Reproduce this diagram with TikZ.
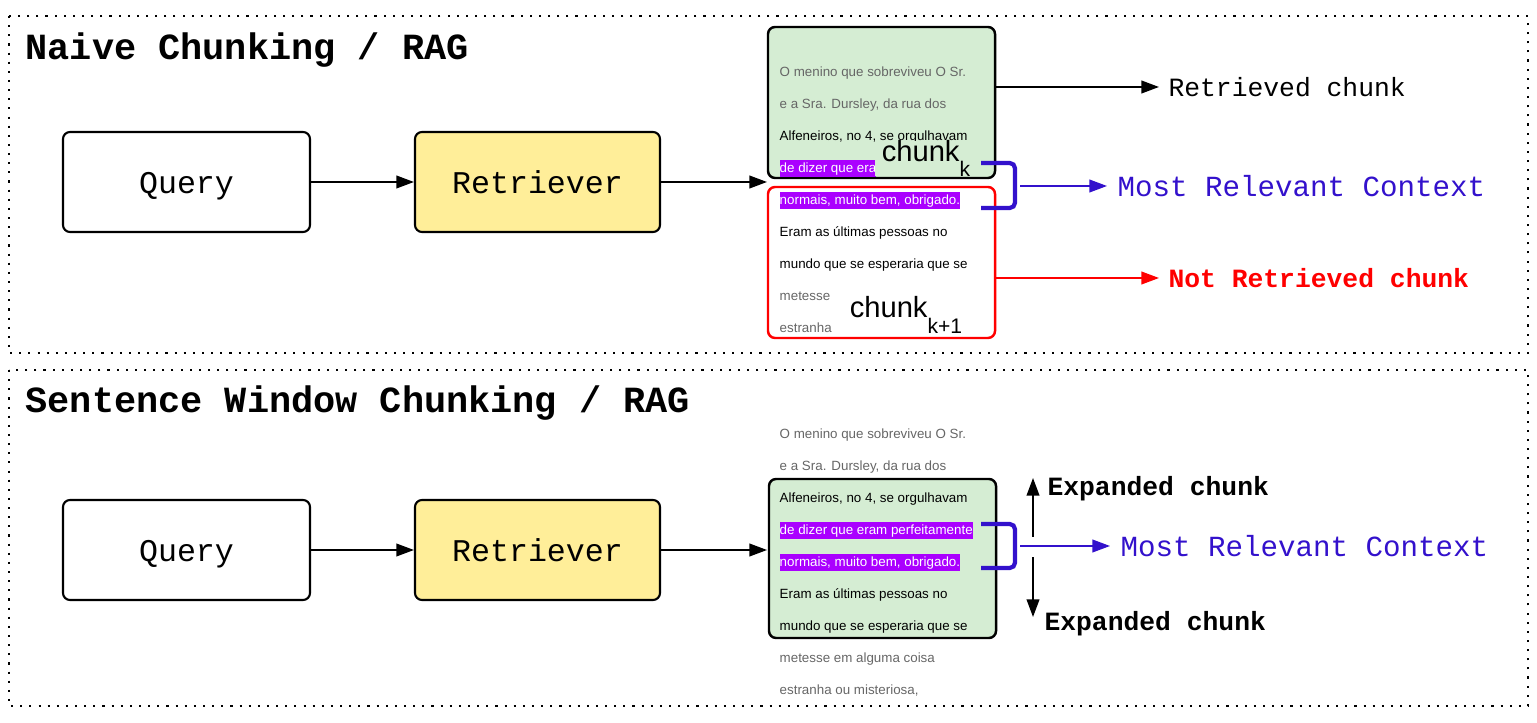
\documentclass[tikz,border=0pt]{standalone}
\usepackage{fontspec}
\setmainfont{Liberation Sans}
\setmonofont{Liberation Mono}
\usetikzlibrary{arrows.meta}
\definecolor{chunkgreen}{RGB}{213,237,211}
\definecolor{retryellow}{RGB}{255,238,153}
\definecolor{hlpurple}{RGB}{170,0,255}
\definecolor{ctxblue}{RGB}{51,17,204}
\definecolor{txtgray}{RGB}{102,102,102}

\begin{document}
\begin{tikzpicture}[
  arrow/.style={-{Triangle[length=5pt,width=3.6pt]}, line width=0.5pt},
  box/.style={draw, rounded corners=2pt, line width=0.6pt, minimum width=2.47cm, minimum height=1cm, text height=8.2pt, text depth=1.6pt, font=\ttfamily\fontsize{9}{11}\selectfont},
  chunkbox/.style={draw, rounded corners=2pt, line width=0.7pt, minimum width=2.27cm},
  para/.style={anchor=west, inner sep=0pt, text height=2.8pt, text depth=0.8pt, font=\fontsize{3.8}{4.5}\selectfont},
  hl/.style={para, fill=hlpurple, text=white, inner ysep=0.5pt},
  chunklbl/.style={anchor=base west, fill=white, inner xsep=2pt, inner ysep=0pt, font=\fontsize{8.3}{10}\selectfont},
  heading/.style={anchor=base west, inner sep=0pt, font=\ttfamily\bfseries\fontsize{10.5}{12}\selectfont},
  lbl/.style={anchor=west, inner sep=2.5pt, font=\ttfamily\fontsize{7.5}{9}\selectfont},
  lblb/.style={anchor=west, inner sep=2.5pt, font=\ttfamily\bfseries\fontsize{7.5}{9}\selectfont},
  ctx/.style={anchor=west, inner sep=2.8pt, text=ctxblue, font=\ttfamily\fontsize{8.3}{10}\selectfont},
  bracket/.style={draw=ctxblue, line width=1.2pt, rounded corners=1.5pt}
]
  \useasboundingbox (0,0) rectangle (15.37,7.22);

  \draw[dotted, line width=0.6pt] (0.09,7.06) rectangle (15.28,3.69);
  \draw[dotted, line width=0.6pt] (0.09,3.52) rectangle (15.28,0.16);

  % naive chunking
  \node[heading] (t1) at (0.25,6.62) {Naive Chunking / RAG};

  \node[box] (q1) at (1.865,5.40) {Query};
  \node[box, fill=retryellow, minimum width=2.45cm] (r1) at (5.375,5.40) {Retriever};
  \coordinate (in1) at (7.67,5.40);
  \draw[arrow] (q1) -- (r1);
  \draw[arrow] (r1) -- (in1);

  \node[chunkbox, fill=chunkgreen, minimum height=1.51cm] (ck) at (8.815,6.195) {};
  \node[chunkbox, draw=red, minimum height=1.51cm] (ck1) at (8.815,4.595) {};

  \node[para, text=txtgray] (p1) at (7.79,6.495) {O menino que sobreviveu O Sr.};
  \node[para, text=txtgray] (p2) at (7.79,6.175) {e a Sra. Dursley, da rua dos};
  \node[para] (p3) at (7.79,5.855) {Alfeneiros, no 4, se orgulhavam};
  \node[hl] (p4) at (7.79,5.535) {de dizer que era};
  \node[hl] (p5) at (7.79,5.215) {normais, muito bem, obrigado.};
  \node[para] (p6) at (7.79,4.895) {Eram as últimas pessoas no};
  \node[para] (p7) at (7.79,4.575) {mundo que se esperaria que se};
  \node[para, text=txtgray] (p8) at (7.79,4.255) {metesse};
  \node[para, text=txtgray] (p9) at (7.79,3.935) {estranha};

  \node[chunklbl, fill=chunkgreen] (lk) at (8.74,5.60) {chunk\raisebox{-4pt}{\fontsize{6}{7}\selectfont k}};
  \node[chunklbl] (lk1) at (8.42,4.04) {chunk\raisebox{-4.3pt}{\fontsize{6}{7}\selectfont k+1}};

  \node[lbl] (lret) at (11.59,6.35) {Retrieved chunk};
  \draw[arrow] (lret.west -| ck.east) -- (lret.west);
  \node[lblb, text=red] (lnret) at (11.59,4.44) {Not Retrieved chunk};
  \draw[arrow, red] (lnret.west -| ck1.east) -- (lnret.west);

  \coordinate (b1a) at (9.81,5.59);
  \coordinate (b1b) at (9.81,5.14);
  \draw[bracket] (b1a) -- (10.15,5.59) -- (10.15,5.14) -- (b1b);
  \node[ctx] (ctx1) at (11.07,5.36) {Most Relevant Context};
  \coordinate (b1o) at (10.20,5.36);
  \draw[arrow, ctxblue] (b1o) -- (ctx1.west);

  % sentence window
  \node[heading] (t2) at (0.25,3.09) {Sentence Window Chunking / RAG};

  \node[box] (q2) at (1.865,1.72) {Query};
  \node[box, fill=retryellow, minimum width=2.45cm] (r2) at (5.375,1.72) {Retriever};
  \coordinate (in2) at (7.67,1.72);
  \draw[arrow] (q2) -- (r2);
  \draw[arrow] (r2) -- (in2);

  \node[chunkbox, fill=chunkgreen, minimum height=1.59cm] (win) at (8.825,1.635) {};

  \node[para, text=txtgray] (s1) at (7.79,2.875) {O menino que sobreviveu O Sr.};
  \node[para, text=txtgray] (s2) at (7.79,2.555) {e a Sra. Dursley, da rua dos};
  \node[para] (s3) at (7.79,2.235) {Alfeneiros, no 4, se orgulhavam};
  \node[hl] (s4) at (7.79,1.915) {de dizer que eram perfeitamente};
  \node[hl] (s5) at (7.79,1.595) {normais, muito bem, obrigado.};
  \node[para] (s6) at (7.79,1.275) {Eram as últimas pessoas no};
  \node[para] (s7) at (7.79,0.955) {mundo que se esperaria que se};
  \node[para, text=txtgray] (s8) at (7.79,0.635) {metesse em alguma coisa};
  \node[para, text=txtgray] (s9) at (7.79,0.315) {estranha ou misteriosa,};

  \coordinate (b2a) at (9.81,1.98);
  \coordinate (b2b) at (9.81,1.54);
  \draw[bracket] (b2a) -- (10.15,1.98) -- (10.15,1.54) -- (b2b);
  \node[ctx] (ctx2) at (11.10,1.76) {Most Relevant Context};
  \coordinate (b2o) at (10.20,1.76);
  \draw[arrow, ctxblue] (b2o) -- (ctx2.west);

  \node[lblb] (exp1) at (10.38,2.33) {Expanded chunk};
  \node[lblb] (exp2) at (10.35,0.98) {Expanded chunk};
  \coordinate (up0) at (10.33,1.85);
  \coordinate (up1) at (10.33,2.44);
  \coordinate (dn0) at (10.33,1.65);
  \coordinate (dn1) at (10.33,1.05);
  \draw[arrow] (up0) -- (up1);
  \draw[arrow] (dn0) -- (dn1);
\end{tikzpicture}
\end{document}
